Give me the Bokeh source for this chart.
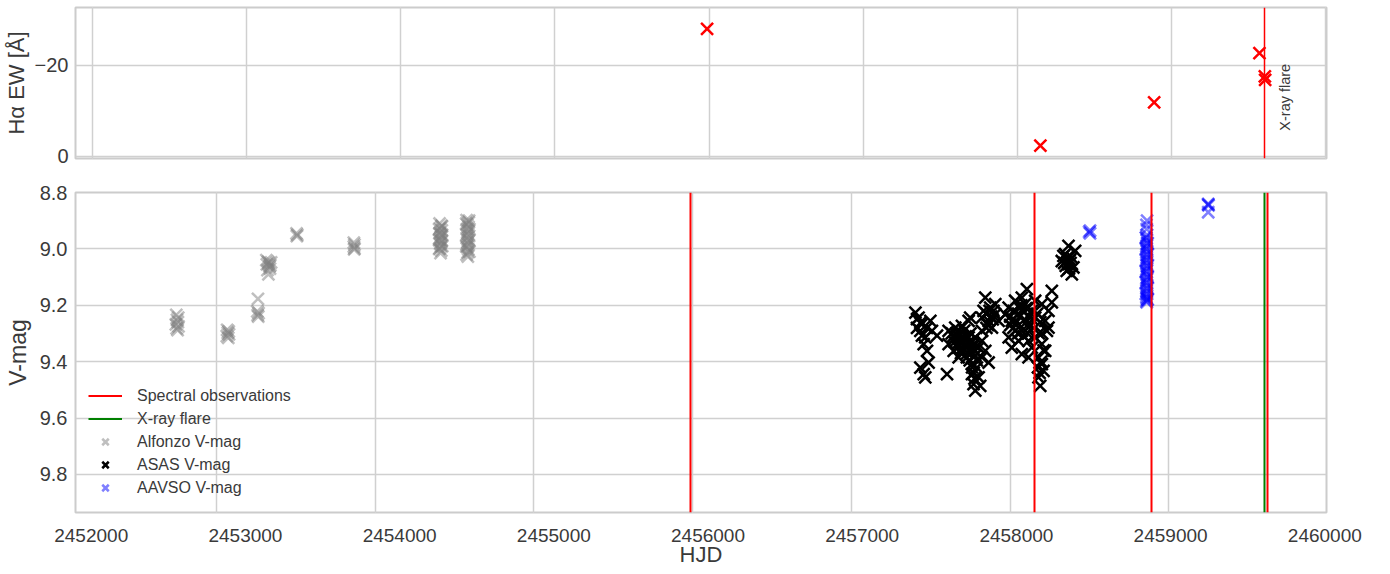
from bokeh.plotting import figure
from bokeh.layouts import column
from bokeh.models import (Range1d, LinearAxis, FixedTicker, Grid, Label, Legend,
                          LegendItem, CustomJSTickFormatter)
from bokeh.embed import file_html
from bokeh.resources import INLINE

FONT = "Liberation Sans"

# ---------------- data ----------------
spec_hjd = [2455987, 2458151, 2458887, 2459623]
flare_hjd = [2459600]

ew_hjd = [2455987, 2458149, 2458887, 2459570, 2459605, 2459607]
ew_val = [-28.0, -2.4, -11.9, -22.7, -17.6, -16.8]

alf_hjd = [2452748, 2452760, 2452752, 2452758, 2452745, 2452762, 2452750, 2452756,
           2453068, 2453078, 2453072, 2453080, 2453066, 2453075,
           2453262, 2453258, 2453266, 2453260, 2453264,
           2453315, 2453325, 2453318, 2453330, 2453335, 2453340, 2453345, 2453322, 2453338, 2453328,
           2453505, 2453510, 2453507,
           2453866, 2453870, 2453866, 2453870, 2453868,
           2454406, 2454418, 2454410, 2454420, 2454408, 2454416, 2454412, 2454405, 2454419,
           2454410, 2454415, 2454407, 2454417, 2454412,
           2454403, 2454422, 2454404, 2454423, 2454403, 2454421, 2454405, 2454420,
           2454576, 2454590, 2454580, 2454588, 2454578, 2454586, 2454582, 2454592, 2454577,
           2454585, 2454581, 2454589, 2454579, 2454587, 2454583, 2454584,
           2454574, 2454594, 2454575, 2454593, 2454574, 2454594, 2454576, 2454592]
alf_vmag = [9.234, 9.244, 9.252, 9.260, 9.268, 9.275, 9.282, 9.288,
            9.287, 9.293, 9.298, 9.303, 9.309, 9.316,
            9.177, 9.222, 9.228, 9.235, 9.240,
            9.040, 9.045, 9.055, 9.050, 9.062, 9.058, 9.048, 9.075, 9.070, 9.090,
            8.945, 8.950, 8.955,
            8.978, 8.985, 8.992, 8.998, 9.002,
            8.910, 8.918, 8.926, 8.934, 8.942, 8.950, 8.958, 8.966, 8.974,
            8.982, 8.990, 8.998, 9.006, 9.015,
            8.930, 8.950, 8.970, 8.990, 9.000, 8.920, 8.945, 8.970,
            8.898, 8.906, 8.914, 8.922, 8.930, 8.938, 8.946, 8.954, 8.962,
            8.970, 8.978, 8.986, 8.994, 9.002, 9.012, 9.027,
            8.910, 8.930, 8.950, 8.970, 8.990, 9.010, 9.020, 8.900]

asas_hjd = [2457403, 2457413, 2457423, 2457434, 2457444, 2457476, 2457507, 2457539, 2457434, 2457465,
            2457455, 2457476, 2457486, 2457434, 2457465, 2457497, 2457413, 2457444, 2457455, 2457602,
            2457612, 2457654, 2457696, 2457738, 2457748, 2457654, 2457696, 2457738, 2457780, 2457822,
            2457612, 2457665, 2457717, 2457769, 2457822, 2457644, 2457696, 2457748, 2457801, 2457843,
            2457675, 2457727, 2457780, 2457759, 2457790, 2457759, 2457801, 2457769, 2457780, 2457822,
            2457864, 2457811, 2457632, 2457680, 2457720, 2457760, 2457790,
            2457640, 2457660, 2457680, 2457700, 2457720, 2457740, 2457760, 2457700, 2457670, 2457650,
            2457730, 2457710, 2457750, 2457690, 2457770, 2457745, 2457760, 2457770, 2457775,
            2457843, 2457874, 2457906, 2457822, 2457864, 2457927, 2457885, 2457832, 2457906, 2457850,
            2457880, 2457850, 2457870, 2457890, 2457860, 2457895,
            2458105, 2458073, 2458031, 2457990, 2457969, 2458010, 2458031, 2457990, 2458010, 2458052,
            2458073, 2458115, 2458094, 2458136, 2458157, 2458115, 2458073, 2458157, 2458199, 2458241,
            2458220, 2458262, 2458231, 2458199, 2458220, 2458178, 2458199, 2458210, 2458178, 2458189,
            2458157, 2458115, 2458136, 2458241, 2458262, 2458050, 2458090, 2458130, 2458180, 2458060,
            2458000, 2458020, 2458040, 2458060, 2458080, 2458100, 2458120, 2458140, 2458020, 2458050,
            2458085, 2458110, 2458000, 2458070, 2458100, 2458170, 2458190, 2458200, 2458210, 2458195,
            2458185, 2458175,
            2458367, 2458346, 2458388, 2458325, 2458367, 2458398, 2458356, 2458388, 2458335, 2458409,
            2458350, 2458375, 2458360, 2458370, 2458340, 2458380]
asas_vmag = [9.226, 9.249, 9.244, 9.262, 9.267, 9.280, 9.291, 9.308, 9.291, 9.314,
             9.338, 9.362, 9.403, 9.421, 9.456, 9.255, 9.280, 9.308, 9.444, 9.444,
             9.291, 9.279, 9.273, 9.255, 9.244, 9.314, 9.314, 9.314, 9.314, 9.291,
             9.338, 9.338, 9.338, 9.338, 9.326, 9.362, 9.362, 9.362, 9.350, 9.362,
             9.385, 9.385, 9.379, 9.409, 9.421, 9.444, 9.456, 9.480, 9.503, 9.385,
             9.403, 9.486, 9.300, 9.300, 9.350, 9.330, 9.395,
             9.310, 9.300, 9.320, 9.330, 9.310, 9.330, 9.350, 9.350, 9.350, 9.330,
             9.370, 9.290, 9.300, 9.370, 9.360, 9.395, 9.420, 9.440, 9.460,
             9.173, 9.208, 9.232, 9.244, 9.255, 9.255, 9.279, 9.220, 9.196, 9.280,
             9.240, 9.230, 9.220, 9.250, 9.270, 9.220,
             9.143, 9.173, 9.184, 9.208, 9.232, 9.255, 9.291, 9.314, 9.350, 9.326,
             9.373, 9.385, 9.196, 9.220, 9.244, 9.279, 9.291, 9.314, 9.196, 9.220,
             9.255, 9.149, 9.291, 9.338, 9.362, 9.385, 9.409, 9.433, 9.456, 9.486,
             9.184, 9.326, 9.350, 9.279, 9.190, 9.230, 9.250, 9.270, 9.300, 9.210,
             9.240, 9.220, 9.260, 9.240, 9.220, 9.260, 9.240, 9.250, 9.280, 9.300,
             9.310, 9.300, 9.270, 9.200, 9.210, 9.230, 9.260, 9.300, 9.360, 9.400,
             9.440, 9.420,
             8.989, 9.019, 9.031, 9.043, 9.054, 9.066, 9.078, 9.090, 9.025, 9.007,
             9.060, 9.040, 9.030, 9.070, 9.050, 9.050]

aavso_hjd = [2458503, 2458503, 2458497,
             2458862, 2458858, 2458860, 2458862, 2458858, 2458860, 2458862, 2458858, 2458860, 2458862,
             2458858, 2458860, 2458862, 2458858, 2458860, 2458862, 2458858, 2458860, 2458862, 2458858,
             2458860, 2458862, 2458858, 2458860, 2458862, 2458858, 2458860, 2458862, 2458858, 2458860,
             2458854, 2458866, 2458854, 2458866, 2458854, 2458866, 2458854, 2458866, 2458854, 2458866,
             2458854, 2458866,
             2459247, 2459247, 2459249, 2459247]
aavso_vmag = [8.935, 8.945, 8.940,
              8.900, 8.915, 8.930, 8.950, 8.960, 8.970, 8.980, 8.990, 9.000, 9.010,
              9.020, 9.030, 9.040, 9.050, 9.060, 9.070, 9.080, 9.090, 9.100, 9.110,
              9.120, 9.130, 9.140, 9.150, 9.160, 9.170, 9.175, 9.180, 9.185, 9.190,
              8.960, 8.980, 9.000, 9.020, 9.040, 9.060, 9.080, 9.100, 9.120, 9.140,
              9.160, 9.180,
              8.840, 8.843, 8.846, 8.870]

top_xticks = [2452000, 2453000, 2454000, 2455000, 2456000, 2457000, 2458000, 2459000, 2460000]
bot_gridticks = [2453000, 2454000, 2455000, 2456000, 2457000, 2458000, 2459000]
ew_ticks = [-20, 0]
vmag_ticks = [8.8, 9.0, 9.2, 9.4, 9.6, 9.8]

GRID_C = "#d0d0d0"
TXT_C = "#3a3a3a"
MSIZE = 17


def style_axis(ax, tick_size="20px", label_size="22px"):
    ax.axis_line_color = None
    ax.major_tick_line_color = None
    ax.minor_tick_line_color = None
    ax.major_tick_out = 0
    ax.major_tick_in = 0
    ax.minor_tick_out = 0
    ax.minor_tick_in = 0
    ax.major_label_text_font = FONT
    ax.major_label_text_font_size = tick_size
    ax.major_label_text_color = TXT_C
    ax.axis_label_text_font = FONT
    ax.axis_label_text_font_size = label_size
    ax.axis_label_text_font_style = "normal"
    ax.axis_label_text_color = TXT_C


# ---------------- top panel ----------------
top = figure(width=1385, height=168,
             x_range=Range1d(2451890, 2460005), y_range=Range1d(0.44, -32.7),
             x_axis_location=None, output_backend="svg", toolbar_location=None,
             min_border_left=74, min_border_right=59, min_border_top=7, min_border_bottom=10)
top.outline_line_color = "#cccccc"
top.outline_line_width = 2
top.yaxis.ticker = FixedTicker(ticks=ew_ticks)
top.yaxis.formatter = CustomJSTickFormatter(
    code="return tick < 0 ? '\u2212' + Math.abs(tick) : String(tick);")
top.yaxis.axis_label = "Hα EW [Å]"
top.yaxis.major_label_standoff = 7
top.yaxis.axis_label_standoff = 3
style_axis(top.yaxis[0])
top.ygrid.grid_line_color = GRID_C
top.ygrid.grid_line_width = 1.5
top.add_layout(Grid(dimension=0, ticker=FixedTicker(ticks=top_xticks),
                    grid_line_color=GRID_C, grid_line_width=1.5))

top.vspan(x=flare_hjd, line_color="red", line_width=1.5)
top.scatter(ew_hjd, ew_val, marker="x", size=MSIZE, line_color="red", line_width=2.5)
top.add_layout(Label(x=flare_hjd[0], y=-13.0, x_offset=21, text="X-ray flare", angle=1.5708,
                     text_align="center", text_baseline="middle", text_font=FONT,
                     text_font_size="14.5px", text_color=TXT_C))

# ---------------- bottom panel ----------------
bot = figure(width=1385, height=405,
             x_range=Range1d(2452113, 2459992), y_range=Range1d(9.935, 8.8),
             x_axis_location=None, output_backend="svg", toolbar_location=None,
             min_border_left=75, min_border_right=58, min_border_top=24, min_border_bottom=61)
bot.outline_line_color = "#cccccc"
bot.outline_line_width = 2
bot.extra_x_ranges = {"lab": Range1d(2451898, 2460011)}
xax = LinearAxis(x_range_name="lab", ticker=FixedTicker(ticks=top_xticks), axis_label="HJD",
                 formatter=CustomJSTickFormatter(code="return tick.toFixed(0);"))
style_axis(xax, tick_size="19px", label_size="22px")
xax.major_label_standoff = 16
xax.axis_label_standoff = -3
bot.add_layout(xax, "below")
bot.add_layout(Grid(dimension=0, ticker=FixedTicker(ticks=bot_gridticks),
                    grid_line_color=GRID_C, grid_line_width=1.5))

bot.yaxis.ticker = FixedTicker(ticks=vmag_ticks)
bot.yaxis.formatter = CustomJSTickFormatter(code="return tick.toFixed(1);")
bot.yaxis.axis_label = "V-mag"
bot.yaxis.major_label_standoff = 8
bot.yaxis.axis_label_standoff = 6
style_axis(bot.yaxis[0], label_size="23px")
bot.ygrid.grid_line_color = GRID_C
bot.ygrid.grid_line_width = 1.5

r_alf = bot.scatter(alf_hjd, alf_vmag, marker="x", size=MSIZE, line_color="gray",
                    line_alpha=0.5, line_width=2.5)
r_asas = bot.scatter(asas_hjd, asas_vmag, marker="x", size=MSIZE, line_color="black",
                     line_width=2.5)
r_aav = bot.scatter(aavso_hjd, aavso_vmag, marker="x", size=MSIZE, line_color="blue",
                    line_alpha=0.5, line_width=2.5)
bot.vspan(x=spec_hjd, line_color="red", line_width=2)
bot.vspan(x=flare_hjd, line_color="green", line_width=2)

# legend proxies (hidden; only used for the legend swatches)
leg_spec = bot.line(spec_hjd, [vmag_ticks[-1]] * len(spec_hjd), line_color="red",
                    line_width=2, visible=False)
leg_flare = bot.line(flare_hjd * 2, vmag_ticks[-2:], line_color="green",
                     line_width=2, visible=False)

legend = Legend(items=[LegendItem(label="Spectral observations", renderers=[leg_spec]),
                       LegendItem(label="X-ray flare", renderers=[leg_flare]),
                       LegendItem(label="Alfonzo V-mag", renderers=[r_alf]),
                       LegendItem(label="ASAS V-mag", renderers=[r_asas]),
                       LegendItem(label="AAVSO V-mag", renderers=[r_aav])],
                location=(13, 13), orientation="vertical",
                background_fill_alpha=0, border_line_alpha=0,
                glyph_width=34, glyph_height=23, label_height=23, label_standoff=15,
                spacing=0, padding=0, margin=0,
                label_text_font=FONT, label_text_font_size="16px", label_text_color=TXT_C)
bot.add_layout(legend)

layout = column(top, bot, spacing=0)
open("out.html", "w").write(file_html(layout, INLINE))
